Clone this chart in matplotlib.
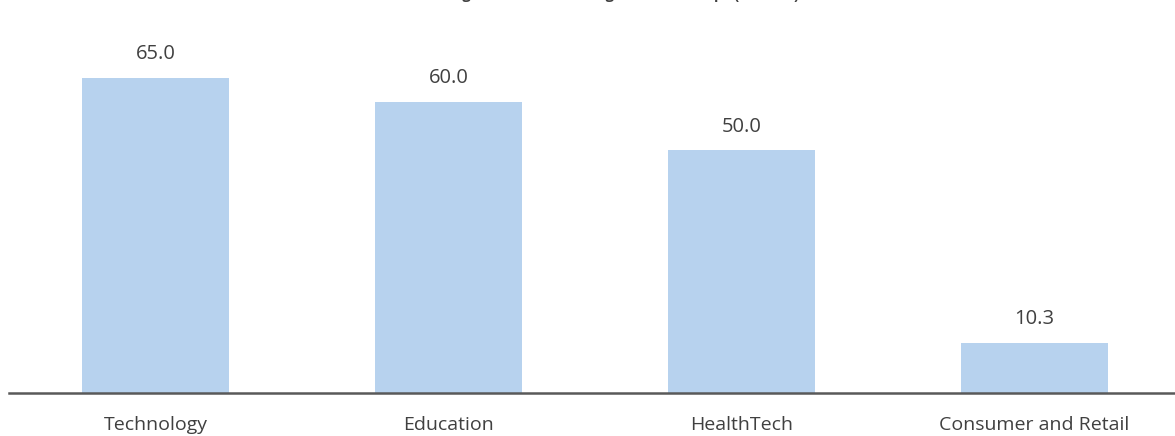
import matplotlib
matplotlib.use("Agg")
import matplotlib.pyplot as plt

categories = ["Technology", "Education", "HealthTech", "Consumer and Retail"]
values = [65.0, 60.0, 50.0, 10.3]
title_text = "Average Ticket Size Among Indian Startups (US$ Mn)"

plt.rcParams['font.family'] = ['Open Sans', 'DejaVu Sans']

W, H = 1175, 436
fig = plt.figure(figsize=(W / 100, H / 100), dpi=100)

left_px, right_px = 9, 1181
bottom_px = 393
ymax = 70
px_per_unit = 4.85
top_px = bottom_px - ymax * px_per_unit
ax = fig.add_axes([left_px / W, (H - bottom_px) / H,
                   (right_px - left_px) / W, (bottom_px - top_px) / H])

x = list(range(len(categories)))
bars = ax.bar(x, values, width=0.5, color="#B7D2EE", zorder=2)
ax.set_xlim(-0.5, len(categories) - 0.5)
ax.set_ylim(0, ymax)

for b, v in zip(bars, values):
    ax.annotate(f"{v:.1f}", (b.get_x() + b.get_width() / 2, b.get_height()),
                xytext=(0, 10), textcoords="offset points",
                ha="center", va="bottom", fontsize=14.5, color="#404040")

ax.set_xticks(x)
ax.set_xticklabels(categories, fontsize=14, color="#404040")
ax.tick_params(axis="x", length=0, pad=16.5)
ax.set_yticks([])
for s in ["top", "right", "left"]:
    ax.spines[s].set_visible(False)
ax.spines["bottom"].set_color("#595959")
ax.spines["bottom"].set_linewidth(1.8)
ax.spines["bottom"].set_zorder(3)

fig.text(610 / W, (H + 1) / H, title_text, ha="center", va="baseline",
         fontsize=10.5, fontweight="bold", color="#404040")

fig.savefig("out.png", dpi=100)
